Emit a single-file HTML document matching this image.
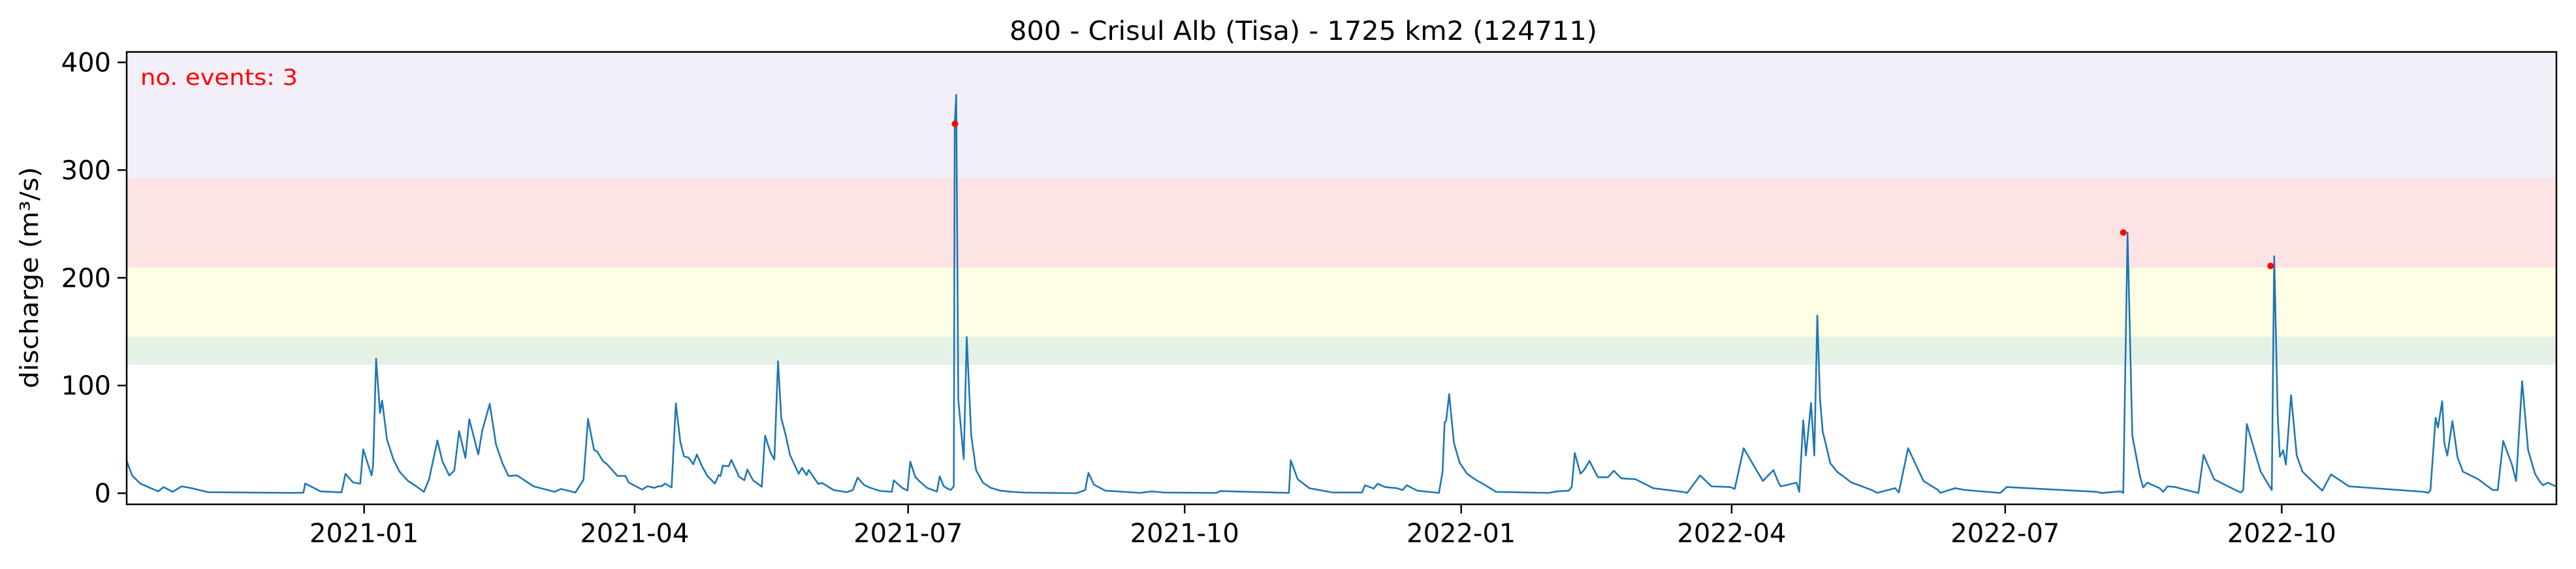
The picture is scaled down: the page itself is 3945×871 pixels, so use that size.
<!DOCTYPE html>
<html><head><meta charset="utf-8"><style>
html,body{margin:0;padding:0;background:#fff;}
svg{display:block;font-family:"DejaVu Sans","Liberation Sans",sans-serif;}
</style></head><body>
<svg id="chart" xmlns="http://www.w3.org/2000/svg" width="3945" height="871" viewBox="0 0 3945 871">
<rect x="0" y="0" width="3945" height="871" fill="#fff"/>
<g id="bands"></g>
<g id="series"></g>
<g id="events"></g>
<rect x="194" y="79.5" width="3721" height="692.5" fill="none" stroke="#000" stroke-width="2.5"/>
<g id="xaxis"></g>
<g id="yaxis"></g>
<text x="1996" y="61" font-size="40" text-anchor="middle" textLength="900" lengthAdjust="spacingAndGlyphs">800 - Crisul Alb (Tisa) - 1725 km2 (124711)</text>
<text x="215" y="130" font-size="34" fill="#ff0000" textLength="241" lengthAdjust="spacingAndGlyphs">no. events: 3</text>
<text transform="translate(58,425) rotate(-90)" font-size="38" text-anchor="middle" textLength="339" lengthAdjust="spacingAndGlyphs">discharge (m³/s)</text>
</svg>
<script>
// days since 2020-10-14
const dayIdx = [0,1.8,4.6,10.5,12.3,15.3,18.3,21.6,27,55,58.8,59.4,64.5,71.5,72.8,75.3,77.7,78.7,81.5,82,83,84.3,85,86.6,88.7,90.8,93.6,96.4,98.9,100.6,103.4,105,107.3,109,110.6,112.7,114,117,118.3,119.1,120.8,122.9,125,127,129.9,135.4,142.4,144.5,149.3,152,153.5,155.5,156.5,158.4,159.8,163.3,166,
167,171.5,173.3,175.5,177,178,179.1,181.3,182.7,184.2,185.4,187,188.5,189.7,191.4,193.2,195.7,197,197.6,198.3,200.3,201.2,203.7,205.5,206.5,208.4,211.3,212.4,214.2,215.5,216.7,217.8,219.3,220.7,223.6,224.7,226.2,226.9,230.1,231.4,235.2,239.6,241.6,243.2,245.4,247.5,250.8,254.6,255.2,258,259.8,260.7,262.4,263.8,266.3,269.6,270.5,271.8,272.9,
274.2,275.2,275.5,276,276.7,278.5,279.5,281,282.6,284.9,287.5,290.7,294.6,298.5,316,318.9,320,321.8,325.6,337.2,341,345,362.5,363.9,386.7,387.3,389.6,393.5,401.2,411,412,414.9,416.2,418.7,422.6,424.5,425.9,429.4,436.6,437.8,438.5,439,440,441.6,443.5,446,448.8,451.7,455.6,473,476,479.8,480.8,481.8,483.7,485,486.7,489.5,492.8,494.8,497.3,502,507.9,517.7,519.2,523.5,527.3,533.6,535,538,541.9,
544.4,547.9,549.6,550.4,555.6,556.5,557.8,558.7,560.4,561.5,562.5,563.4,564.3,565.5,566.8,569.1,573.8,580.6,582.4,588.4,589.6,592.7,597.8,602.7,603.4,608.3,611.7,622.4,623.4,625.5,655.6,656.9,663.4,664.3,665.7,667.3,669.8,670.9,672.3,676.4,677.6,679,681.6,687.6,689.3,691,694.5,701.6,703.4,704.2,705.4,707.9,710,712.6,713.7,714.5,715.7,716.4,717.5,718.4,720.1,722,723.9,726.5,729.1,730.5,733.4,739.4,764.4,765.8,766.5,768.2,769,770.4,771.1,772.1,773.8,775.5,777.3,782.4,787.2,788.9,790.7,793.6,795,797,799,801.3,803,804,805.5,808.2];
const discharge = [30,16.5,8.8,1.7,5.7,1.3,6.4,4.7,1,0.3,0.5,9,1.7,0.8,18,10,8.8,40.7,16.5,26,125,74.4,86,50,31.6,20,11.5,6.4,1.3,13,49,30,16.5,21,57.6,32.7,68.7,36,58,66,83,45,28,16,16.5,6.4,1.3,4,0.6,12.5,69,40,39,30,27,16,16,
10,3.4,6.5,5,6.5,6.5,9,5.4,83.4,47.5,34.3,33,26.9,36,25.2,16,9,17,16,25.6,25,31,15.6,12,22,12,6,53.5,37.8,31.3,122.6,69.7,53.5,35.4,18,23.6,16.8,21.6,8.7,9.5,3,1,3,14.5,7.5,5,2,1.4,12,5,2.5,29.3,15,11,5,1.5,15.7,6.8,4.6,
3,6.4,343,370,87,31.6,145,53.5,21.5,9.8,5,2.4,1.3,0.6,0,3,18.9,8,2.4,0.3,1.7,0.7,0.3,2,0.3,30.6,13,4.7,0.7,0.7,7.4,4.4,8.8,5.7,4.7,3,7.4,2.4,0.3,19.9,66,67,92,46.8,28.3,18,12.5,8,1.3,0.3,1.7,2.4,6,37.4,18,22,30,14.8,14.8,20.9,13.8,13,4.7,1.3,0.3,16.5,6.4,5.7,4,41.8,23,11.4,
21.5,9.8,6.4,9.8,1.3,67.7,35,83.8,35,165,87,57,43.4,28,19.9,10,3,0.3,4.7,0.7,41.8,11.4,3,0.3,4.7,3,0.5,0.3,5.7,1.3,0.2,1.7,0.3,242,53.5,16.5,5.4,9.8,4.7,1.3,6.4,5.7,1.3,0.3,35.7,13,3,0.7,3,64.3,40,20,8,3,220,70,34,40,26.6,91,35,20,13,6,2.4,17.5,6.4,1.3,0.3,3,70,61,85.5,46.8,35,67,33.3,20,13,3,3,48.5,26.6,11.4,104,40,18,10.4,7.4,9.8,6.4,9];
const eventDays = [275.6,664.3,713.3];
const eventValues = [343,242,211];
const xTickDays = [79,169,260,352,444,534,625,717];
const xTickLabels = ["2021-01","2021-04","2021-07","2021-10","2022-01","2022-04","2022-07","2022-10"];
const yTicks = [0,100,200,300,400];
const bandLower = [119.2,145.4,209.4,292.7];
const bandUpper = [145.4,209.4,292.7,409.7];
const bandColors = ["#e6f1e6","#fefee5","#fee3e5","#f2eff9"];
const bandNames = ["band-green","band-yellow","band-red","band-purple"];

const X0=194,X1=3915,Y0=772,Y1=79.5,D0=0,D1=808.4,V0=-10.3,V1=409.7;
const xs=d=>X0+(d-D0)/(D1-D0)*(X1-X0);
const ys=v=>Y0-(v-V0)/(V1-V0)*(Y0-Y1);
const NS="http://www.w3.org/2000/svg";
function mk(tag,attrs,parent){const e=document.createElementNS(NS,tag);for(const k in attrs)e.setAttribute(k,attrs[k]);parent.appendChild(e);return e;}

const gb=document.getElementById('bands');
for(let i=0;i<bandLower.length;i++){
  const top=ys(Math.min(bandUpper[i],V1)), bot=ys(bandLower[i]);
  const r=mk('rect',{x:X0,y:top,width:X1-X0,height:bot-top,fill:bandColors[i]},gb);
  
  
}
const gs=document.getElementById('series');
let dstr='';
const n=Math.min(dayIdx.length,discharge.length);
for(let i=0;i<n;i++){dstr+=(i?'L':'M')+xs(dayIdx[i]).toFixed(1)+','+ys(discharge[i]).toFixed(1);}
const line=mk('path',{d:dstr,fill:'none',stroke:'#1f77b4','stroke-width':2.6,'stroke-linejoin':'round'},gs);


const ge=document.getElementById('events');
for(let i=0;i<eventDays.length;i++){
  const c=mk('circle',{cx:xs(eventDays[i]),cy:ys(eventValues[i]),r:5,fill:'#ff0000'},ge);
  
  
}
const gx=document.getElementById('xaxis');
for(let i=0;i<xTickDays.length;i++){
  const x=xs(xTickDays[i]);
  const t=mk('line',{x1:x,x2:x,y1:Y0,y2:Y0+14,stroke:'#000','stroke-width':2.5},gx);
  
  
  const l=mk('text',{x:x,y:830,'font-size':40,'text-anchor':'middle'},gx);
  l.textContent=xTickLabels[i];
  
  
}
const gy=document.getElementById('yaxis');
for(let i=0;i<yTicks.length;i++){
  const y=ys(yTicks[i]);
  const t=mk('line',{x1:X0-14,x2:X0,y1:y,y2:y,stroke:'#000','stroke-width':2.5},gy);
  
  
  const l=mk('text',{x:X0-24,y:y+14,'font-size':40,'text-anchor':'end'},gy);
  l.textContent=String(yTicks[i]);
  
  
}
</script>
</body></html>
